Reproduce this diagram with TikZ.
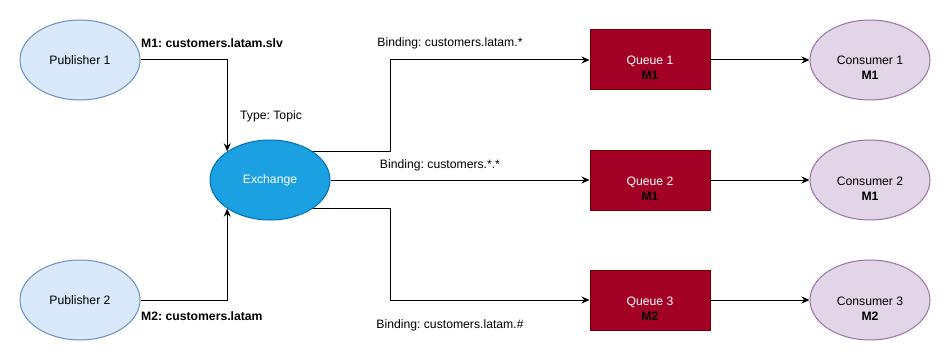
\documentclass[tikz,border=0pt]{standalone}
\usepackage{fontspec}
\setmainfont{Liberation Sans}
\usetikzlibrary{arrows.meta, positioning, calc, shapes}
\definecolor{pubfill}{RGB}{218,232,252}
\definecolor{pubedge}{RGB}{108,142,191}
\definecolor{exfill}{RGB}{27,161,226}
\definecolor{exedge}{RGB}{0,110,175}
\definecolor{qfill}{RGB}{162,0,37}
\definecolor{qedge}{RGB}{111,0,0}
\definecolor{cfill}{RGB}{225,213,231}
\definecolor{cedge}{RGB}{150,115,166}
% pushes two-line labels a bit below the middle
\newcommand{\qpad}{\rule{0pt}{25pt}}
\frenchspacing

\begin{document}
\begin{tikzpicture}[x=1pt, y=-1pt, font=\fontsize{12.2}{15}\selectfont,
  pub/.style={ellipse, draw=pubedge, fill=pubfill, line width=1pt, minimum width=120pt, minimum height=80pt, inner sep=0pt},
  exch/.style={ellipse, draw=exedge, fill=exfill, text=white, line width=1pt, minimum width=120pt, minimum height=80pt, inner sep=0pt},
  queue/.style={rectangle, draw=qedge, fill=qfill, text=white, line width=1pt, minimum width=120pt, minimum height=60pt, align=center, inner sep=0pt},
  cons/.style={ellipse, draw=cedge, fill=cfill, line width=1pt, minimum width=120pt, minimum height=80pt, align=center, inner sep=0pt},
  tag/.style={inner sep=0pt},
  key/.style={tag, font=\fontsize{12.2}{15}\selectfont\bfseries},
  flow/.style={-{Stealth[length=8pt, width=7pt]}, line width=1pt}]
  \useasboundingbox (0,0) rectangle (951,361);
  % Publishers and exchange
  \node[pub] (pub1) at (80,60) {Publisher 1};
  \node[pub] (pub2) at (80,300) {Publisher 2};
  \node[exch] (exch) at (270,180) {Exchange};
  \draw[flow] (pub1.east) -| (exch.north west);
  \draw[flow] (pub2.east) -| (exch.south west);
  \node[key, anchor=west] (k1) at (141,43) {M1: customers.latam.slv};
  \node[key, anchor=west] (k2) at (141,316) {M2: customers.latam};
  \node[tag] (type) at (271,116) {Type: Topic};
  % Queues and consumers
  \foreach \i/\y/\m in {1/60/M1, 2/180/M1, 3/300/M2} {
    \node[queue] (q\i) at (650,\y) {\qpad Queue \i\\\textcolor{black}{\bfseries \m}};
    \node[cons] (c\i) at (870,\y) {\qpad Consumer \i\\\bfseries \m};
    \draw[flow] (q\i) -- (c\i);
  }
  % Bindings
  \draw[flow] (exch.north east) -- ++(78,0) |- (q1.west);
  \draw[flow] (exch.east) -- (q2.west);
  \draw[flow] (exch.south east) -- ++(78,0) |- (q3.west);
  \node[tag] (b1) at (450,43) {Binding: customers.latam.*};
  \node[tag] (b2) at (440,165) {Binding: customers.*.*};
  \node[tag] (b3) at (450,325) {Binding: customers.latam.\#};
\end{tikzpicture}
\end{document}
